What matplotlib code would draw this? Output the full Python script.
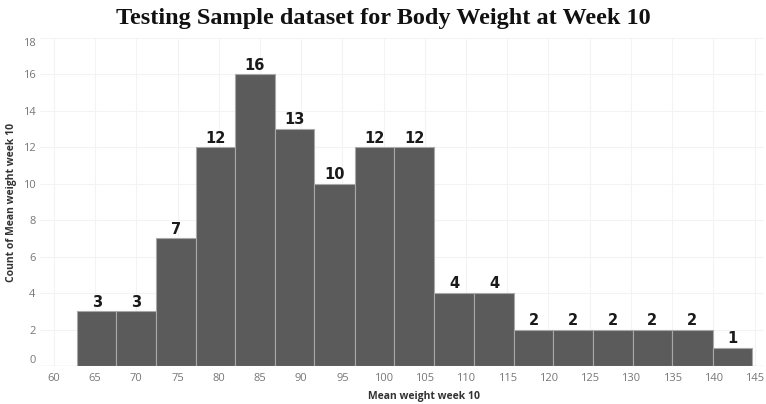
import matplotlib.pyplot as plt

# Histogram bins (left edges) and counts
bin_edges = [62.8, 67.6, 72.4, 77.2, 82.0, 86.8, 91.6, 96.5, 101.3, 106.1,
             111.0, 115.8, 120.6, 125.4, 130.2, 135.0, 139.9, 144.7]
counts = [3, 3, 7, 12, 16, 13, 10, 12, 12, 4, 4, 2, 2, 2, 2, 2, 1]
x_ticks = list(range(60, 150, 5))
y_ticks = list(range(0, 20, 2))

fig = plt.figure(figsize=(7.66, 4.04), dpi=100)
ax = fig.add_axes([0.052, 0.094, 0.946, 0.812])

lefts = bin_edges[:-1]
widths = [b - a for a, b in zip(bin_edges[:-1], bin_edges[1:])]
bars = ax.bar(lefts, counts, width=widths, align='edge', color='#5b5b5b',
              edgecolor='#a8a8a8', linewidth=0.8, zorder=3)

for rect, c in zip(bars, counts):
    ax.text(rect.get_x() + rect.get_width() / 2, rect.get_height() + 0.1, str(c),
            ha='center', va='bottom', fontsize=10.5, fontweight='bold',
            color='#1a1a1a', family='DejaVu Sans', zorder=4)

ax.set_xlim(58.3, 146.2)
ax.set_ylim(0, 18)
ax.set_xticks(x_ticks)
ax.set_yticks(y_ticks)
ax.tick_params(length=0, labelsize=8, colors='#777777', pad=5)
ax.tick_params(axis='y', pad=3)
for lab in ax.get_xticklabels() + ax.get_yticklabels():
    lab.set_family('Open Sans')
ylabs = ax.get_yticklabels()
ylabs[0].set_verticalalignment('bottom')
ylabs[-1].set_verticalalignment('top')

ax.grid(True, color='#f3f3f3', linewidth=0.8, zorder=0)
for s in ax.spines.values():
    s.set_visible(False)
ax.axhline(0, color='#e2e2e2', linewidth=1, zorder=2)

ax.set_xlabel('Mean weight week 10', fontsize=7.5, fontweight='bold',
              color='#333333', family='Open Sans')
ax.xaxis.set_label_coords(0.53, -0.075)
ax.set_ylabel('Count of Mean weight week 10', fontsize=7.5, fontweight='bold',
              color='#333333', family='Open Sans')
ax.yaxis.set_label_coords(-0.032, 0.5)

fig.text(0.5, 0.955, 'Testing Sample dataset for Body Weight at Week 10',
         ha='center', va='center', fontsize=17.5, fontweight='bold',
         family='Liberation Serif', color='#111111')

fig.savefig('out.png', dpi=100)
